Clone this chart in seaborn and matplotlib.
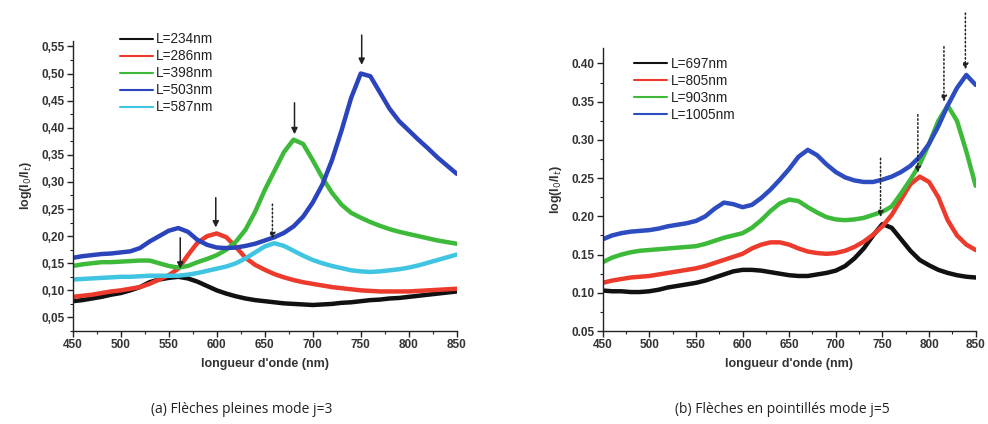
import numpy as np
import pandas as pd
import matplotlib
matplotlib.use("Agg")
import matplotlib.pyplot as plt
from matplotlib.ticker import MultipleLocator, FuncFormatter
import seaborn as sns

# wavelength grid (nm), values every 10 nm
wl = list(range(450, 851, 10))

# ---- (a) mode j=3 ----
left_labels = ["L=234nm", "L=286nm", "L=398nm", "L=503nm", "L=587nm"]
left_colors = ["#111111", "#ec3b2c", "#3dba3a", "#2c44bb", "#3fc4e2"]

black_a = [0.080, 0.082, 0.085, 0.088, 0.092, 0.095, 0.100, 0.106, 0.115, 0.120,
           0.123, 0.125, 0.122, 0.116, 0.108, 0.100, 0.094, 0.089, 0.085, 0.082,
           0.080, 0.078, 0.076, 0.075, 0.074, 0.073, 0.074, 0.075, 0.077, 0.078,
           0.080, 0.082, 0.083, 0.085, 0.086, 0.088, 0.090, 0.092, 0.094, 0.096, 0.098]
red_a = [0.088, 0.090, 0.092, 0.095, 0.098, 0.100, 0.103, 0.106, 0.112, 0.120,
         0.128, 0.140, 0.165, 0.188, 0.200, 0.205, 0.198, 0.180, 0.160, 0.147,
         0.138, 0.130, 0.124, 0.119, 0.115, 0.112, 0.109, 0.106, 0.104, 0.102,
         0.100, 0.099, 0.098, 0.098, 0.098, 0.098, 0.099, 0.100, 0.101, 0.102, 0.103]
green_a = [0.145, 0.148, 0.150, 0.152, 0.152, 0.153, 0.154, 0.155, 0.155, 0.150,
           0.145, 0.142, 0.145, 0.152, 0.158, 0.165, 0.175, 0.190, 0.212, 0.245,
           0.285, 0.320, 0.355, 0.378, 0.370, 0.340, 0.308, 0.280, 0.258, 0.243,
           0.234, 0.226, 0.219, 0.213, 0.208, 0.204, 0.200, 0.196, 0.192, 0.189, 0.186]
blue_a = [0.160, 0.163, 0.165, 0.167, 0.168, 0.170, 0.172, 0.178, 0.190, 0.200,
          0.210, 0.215, 0.208, 0.193, 0.184, 0.179, 0.178, 0.179, 0.182, 0.186,
          0.192, 0.198, 0.206, 0.218, 0.236, 0.262, 0.295, 0.340, 0.395, 0.455,
          0.500, 0.495, 0.465, 0.435, 0.412, 0.395, 0.378, 0.362, 0.345, 0.330, 0.315]
cyan_a = [0.120, 0.121, 0.122, 0.123, 0.124, 0.125, 0.125, 0.126, 0.127, 0.127,
          0.127, 0.127, 0.129, 0.132, 0.136, 0.140, 0.144, 0.150, 0.159, 0.170,
          0.181, 0.187, 0.182, 0.173, 0.164, 0.156, 0.150, 0.145, 0.141, 0.137,
          0.135, 0.134, 0.135, 0.137, 0.139, 0.142, 0.146, 0.151, 0.156, 0.161, 0.166]

# arrows (a): wavelength, start value, tip value, dotted?
arrows_a_wl = [562, 599, 681, 751, 658]
arrows_a_from = [0.197, 0.271, 0.446, 0.571, 0.259]
arrows_a_to = [0.140, 0.216, 0.388, 0.516, 0.195]
arrows_a_dotted = [False, False, False, False, True]

# ---- (b) mode j=5 ----
right_labels = ["L=697nm", "L=805nm", "L=903nm", "L=1005nm"]
right_colors = ["#111111", "#ec3b2c", "#3dba3a", "#2c4cc0"]

black_b = [0.103, 0.102, 0.102, 0.101, 0.101, 0.102, 0.104, 0.107, 0.109, 0.111,
           0.113, 0.116, 0.120, 0.124, 0.128, 0.130, 0.130, 0.129, 0.127, 0.125,
           0.123, 0.122, 0.122, 0.124, 0.126, 0.129, 0.135, 0.145, 0.158, 0.175,
           0.190, 0.185, 0.170, 0.155, 0.143, 0.136, 0.130, 0.126, 0.123, 0.121, 0.120]
red_b = [0.113, 0.116, 0.118, 0.120, 0.121, 0.122, 0.124, 0.126, 0.128, 0.130,
         0.132, 0.135, 0.139, 0.143, 0.147, 0.151, 0.158, 0.163, 0.166, 0.166,
         0.163, 0.158, 0.154, 0.152, 0.151, 0.152, 0.155, 0.160, 0.167, 0.176,
         0.187, 0.202, 0.222, 0.242, 0.252, 0.245, 0.225, 0.195, 0.175, 0.163, 0.156]
green_b = [0.140, 0.146, 0.150, 0.153, 0.155, 0.156, 0.157, 0.158, 0.159, 0.160,
           0.161, 0.164, 0.168, 0.172, 0.175, 0.178, 0.185, 0.195, 0.207, 0.217,
           0.222, 0.220, 0.212, 0.205, 0.199, 0.196, 0.195, 0.196, 0.198, 0.202,
           0.206, 0.213, 0.230, 0.248, 0.268, 0.295, 0.325, 0.345, 0.325, 0.285, 0.240]
blue_b = [0.170, 0.175, 0.178, 0.180, 0.181, 0.182, 0.184, 0.187, 0.189, 0.191,
          0.194, 0.200, 0.210, 0.218, 0.216, 0.212, 0.215, 0.224, 0.235, 0.248,
          0.262, 0.278, 0.287, 0.280, 0.268, 0.258, 0.251, 0.247, 0.245, 0.245,
          0.248, 0.252, 0.258, 0.266, 0.278, 0.295, 0.318, 0.345, 0.368, 0.385, 0.372]

arrows_b_wl = [748, 788, 816, 839]
arrows_b_from = [0.276, 0.333, 0.422, 0.466]
arrows_b_to = [0.199, 0.257, 0.350, 0.392]

sns.set_style("ticks")
plt.rcParams['font.family'] = ['Liberation Sans', 'DejaVu Sans']


def long_df(labels, series):
    frames = []
    for lab, vals in zip(labels, series):
        frames.append(pd.DataFrame({"wl": wl, "val": vals, "L": lab}))
    return pd.concat(frames, ignore_index=True)


df_a = long_df(left_labels, [black_a, red_a, green_a, blue_a, cyan_a])
df_b = long_df(right_labels, [black_b, red_b, green_b, blue_b])

fig = plt.figure(figsize=(9.88, 4.24), dpi=100)
ax1 = fig.add_axes([0.0736, 0.2193, 0.3887, 0.684])
ax2 = fig.add_axes([0.610, 0.2193, 0.3775, 0.667])


def style_axis(ax, ylim, comma):
    ax.set_xlim(450, 850)
    ax.set_ylim(*ylim)
    ax.xaxis.set_major_locator(MultipleLocator(50))
    ax.xaxis.set_minor_locator(MultipleLocator(25))
    ax.yaxis.set_major_locator(MultipleLocator(0.05))
    ax.yaxis.set_minor_locator(MultipleLocator(0.025))
    if comma:
        ax.yaxis.set_major_formatter(FuncFormatter(lambda v, _: f"{v:.2f}".replace(".", ",")))
    else:
        ax.yaxis.set_major_formatter(FuncFormatter(lambda v, _: f"{v:.2f}"))
    sns.despine(ax=ax)
    for s in ["left", "bottom"]:
        ax.spines[s].set_linewidth(1.0)
        ax.spines[s].set_color("#222222")
    ax.tick_params(which="major", direction="out", length=4, width=1, color="#222222",
                   labelsize=8.5, pad=2, labelcolor="#333333")
    ax.tick_params(which="minor", direction="out", length=2.5, width=0.8, color="#222222")
    for t in ax.get_xticklabels() + ax.get_yticklabels():
        t.set_fontweight("bold")
    ax.set_xlabel("longueur d'onde (nm)", fontsize=9, fontweight="bold", color="#333333", labelpad=5)
    ax.set_ylabel(r"log(I$_0$/I$_t$)", fontsize=9, fontweight="bold", color="#333333", labelpad=5)


def draw(ax, df, labels, colors, anchor):
    sns.lineplot(data=df, x="wl", y="val", hue="L", hue_order=labels,
                 palette=dict(zip(labels, colors)), linewidth=3.2, sort=False,
                 estimator=None, ax=ax)
    handles, labs = ax.get_legend_handles_labels()
    leg = ax.legend(handles, labs, loc="upper left", bbox_to_anchor=anchor,
                    frameon=False, fontsize=9.8, borderpad=0, borderaxespad=0,
                    handlelength=2.4, handletextpad=0.25, labelspacing=0.22)
    for line in leg.get_lines():
        line.set_linewidth(1.5)
    for t in leg.get_texts():
        t.set_color("#222222")


draw(ax1, df_a, left_labels, left_colors, (0.123, 1.03))
draw(ax2, df_b, right_labels, right_colors, (0.085, 0.97))
style_axis(ax1, (0.025, 0.56), True)
style_axis(ax2, (0.05, 0.42), False)

for x, y0, y1, dot in zip(arrows_a_wl, arrows_a_from, arrows_a_to, arrows_a_dotted):
    ax1.annotate("", xy=(x, y1), xytext=(x, y0), annotation_clip=False,
                 arrowprops=dict(arrowstyle="-|>", color="#222222", lw=1.1,
                                 linestyle=":" if dot else "-", mutation_scale=9,
                                 shrinkA=0, shrinkB=0))
for x, y0, y1 in zip(arrows_b_wl, arrows_b_from, arrows_b_to):
    ax2.annotate("", xy=(x, y1), xytext=(x, y0), annotation_clip=False,
                 arrowprops=dict(arrowstyle="-|>", color="#222222", lw=1.1,
                                 linestyle=":", mutation_scale=9,
                                 shrinkA=0, shrinkB=0))

fig.text(0.245, 0.035, "(a) Flèches pleines mode j=3", ha="center", va="center",
         fontsize=10, family=["Open Sans", "DejaVu Sans"], color="#222222")
fig.text(0.792, 0.035, "(b) Flèches en pointillés mode j=5", ha="center", va="center",
         fontsize=10, family=["Open Sans", "DejaVu Sans"], color="#222222")

fig.savefig("out.png", dpi=100)
